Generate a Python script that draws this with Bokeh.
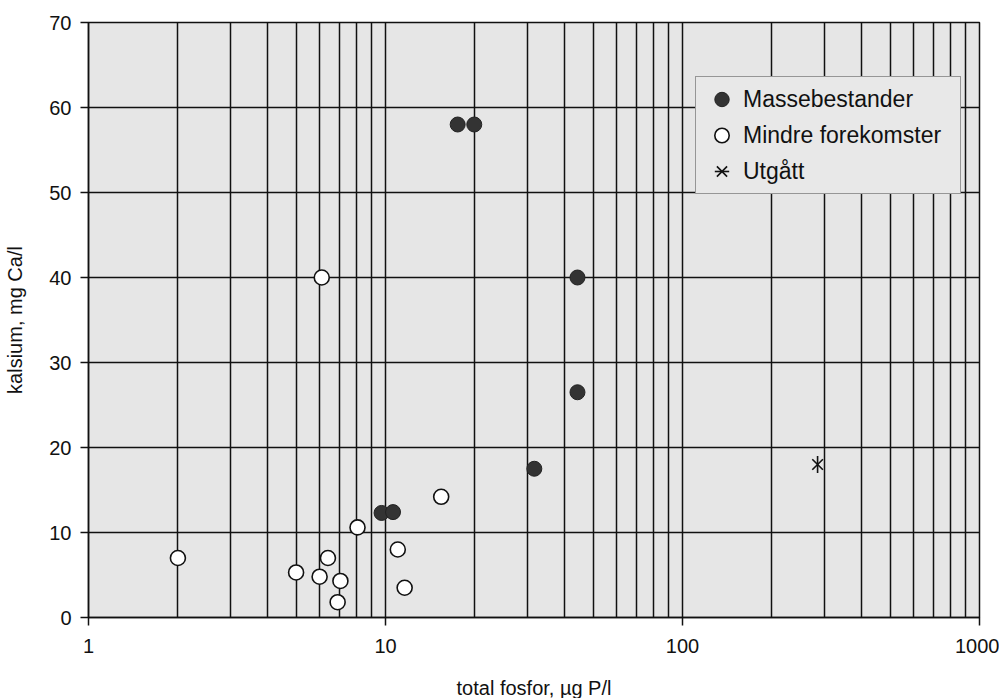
from bokeh.plotting import figure
from bokeh.models import (FixedTicker, Legend, LegendItem, Range1d, CustomJSTickFormatter)
from bokeh.embed import file_html
from bokeh.resources import INLINE
import math

# Data
masse_x = [17.5, 19.9, 9.7, 10.6, 31.7, 44.3, 44.3]
masse_y = [58.0, 58.0, 12.3, 12.4, 17.5, 40.0, 26.5]
mindre_x = [2.0, 5.0, 6.0, 6.4, 7.05, 6.9, 8.05, 11.0, 11.6, 15.4, 6.1]
mindre_y = [7.0, 5.3, 4.8, 7.0, 4.3, 1.8, 10.6, 8.0, 3.5, 14.2, 40.0]
utg_x = [285.0]
utg_y = [18.0]
x_ticks = [1, 10, 100, 1000]
y_ticks = [0, 10, 20, 30, 40, 50, 60, 70]
x_grid = [m * d for d in [1, 10, 100] for m in range(1, 10)] + [1000]

FONT = "Liberation Sans"

p = figure(x_axis_type="log", x_range=Range1d(1, 1000), y_range=Range1d(0, 70),
           frame_width=891, frame_height=595, output_backend="svg",
           toolbar_location=None, min_border_left=88, min_border_top=22,
           min_border_right=20, min_border_bottom=78)
p.background_fill_color = "#e6e6e6"
p.border_fill_color = "white"
p.outline_line_color = "#111111"
p.outline_line_width = 1.5

p.xaxis.ticker = FixedTicker(ticks=x_ticks)
p.xaxis.formatter = CustomJSTickFormatter(code="return tick.toFixed(0);")
p.yaxis.ticker = FixedTicker(ticks=y_ticks)
p.xgrid.ticker = FixedTicker(ticks=x_grid)
p.ygrid.ticker = FixedTicker(ticks=y_ticks)
for g in (p.xgrid, p.ygrid):
    g.grid_line_color = "#111111"
    g.grid_line_width = 1.5
    g.grid_line_alpha = 1.0

for ax in (p.xaxis, p.yaxis):
    ax.axis_line_color = "#111111"
    ax.axis_line_width = 1.5
    ax.major_tick_line_color = "#111111"
    ax.major_tick_line_width = 1.5
    ax.major_tick_out = 8
    ax.major_tick_in = 0
    ax.minor_tick_line_color = None
    ax.major_label_text_font = FONT
    ax.major_label_text_font_size = "20px"
    ax.major_label_text_color = "#111111"
    ax.axis_label_text_font = FONT
    ax.axis_label_text_font_size = "20px"
    ax.axis_label_text_font_style = "normal"
    ax.axis_label_text_color = "#111111"

p.xaxis.axis_label = "total fosfor, µg P/l"
p.yaxis.axis_label = "kalsium, mg Ca/l"
p.xaxis.major_label_standoff = 13
p.xaxis.axis_label_standoff = 21
p.yaxis.major_label_standoff = 9
p.yaxis.axis_label_standoff = 20

r1 = p.scatter(masse_x, masse_y, size=15, marker="circle", fill_color="#333333",
               line_color="#222222", line_width=1)
r2 = p.scatter(mindre_x, mindre_y, size=15, marker="circle", fill_color="white",
               line_color="#111111", line_width=1.6)
r3a = p.scatter(utg_x, utg_y, size=15, marker="x", line_color="#111111", line_width=1.6)
r3b = p.scatter(utg_x, utg_y, size=17, marker="dash", angle=math.pi / 2,
                line_color="#111111", line_width=1.6)

legend = Legend(items=[
    LegendItem(label="Massebestander", renderers=[r1]),
    LegendItem(label="Mindre forekomster", renderers=[r2]),
    LegendItem(label="Utgått", renderers=[r3a, r3b]),
], location=(607, 423))
legend.background_fill_color = "#e8e8e8"
legend.background_fill_alpha = 1.0
legend.border_line_color = "#444444"
legend.border_line_width = 1.5
legend.label_text_font = FONT
legend.label_text_font_size = "23px"
legend.label_text_color = "#111111"
legend.glyph_width = 43
legend.glyph_height = 36
legend.label_height = 36
legend.label_width = 213
legend.label_standoff = 0
legend.spacing = 0
legend.padding = 4
legend.margin = 0
p.add_layout(legend, "center")

open("out.html", "w").write(file_html(p, INLINE))
